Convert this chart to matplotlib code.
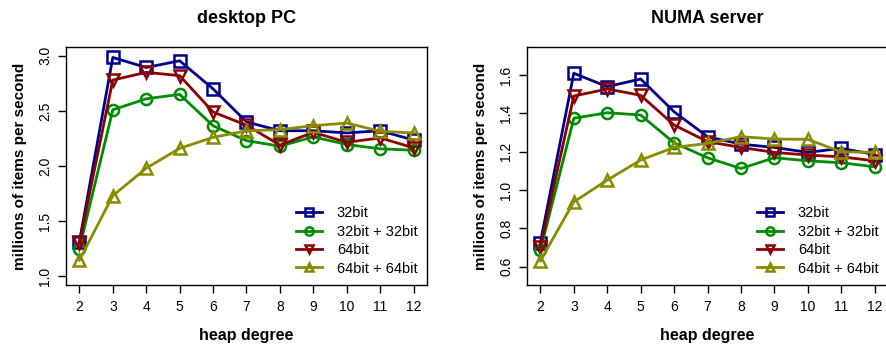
import matplotlib
matplotlib.use("Agg")
import matplotlib.pyplot as plt

plt.rcParams['font.family'] = ['Liberation Sans', 'DejaVu Sans']

degree = [2, 3, 4, 5, 6, 7, 8, 9, 10, 11, 12]
series_names = ["32bit", "32bit + 32bit", "64bit", "64bit + 64bit"]

# desktop PC
pc_32 = [1.31, 2.985, 2.894, 2.955, 2.70, 2.40, 2.32, 2.32, 2.30, 2.32, 2.235]
pc_32_32 = [1.25, 2.51, 2.61, 2.65, 2.365, 2.23, 2.18, 2.264, 2.195, 2.156, 2.143]
pc_64 = [1.30, 2.78, 2.85, 2.82, 2.49, 2.37, 2.19, 2.306, 2.215, 2.255, 2.165]
pc_64_64 = [1.145, 1.73, 1.98, 2.16, 2.26, 2.32, 2.33, 2.366, 2.39, 2.315, 2.30]

# NUMA server
numa_32 = [0.725, 1.609, 1.539, 1.579, 1.408, 1.278, 1.239, 1.222, 1.196, 1.217, 1.185]
numa_32_32 = [0.685, 1.374, 1.403, 1.391, 1.246, 1.168, 1.112, 1.168, 1.152, 1.142, 1.121]
numa_64 = [0.703, 1.49, 1.527, 1.494, 1.339, 1.252, 1.222, 1.196, 1.182, 1.173, 1.152]
numa_64_64 = [0.63, 0.938, 1.051, 1.156, 1.222, 1.243, 1.278, 1.266, 1.264, 1.199, 1.196]

colors = ["#00008B", "#008B00", "#8B0000", "#8B8B00"]
markers = ["s", "o", "v", "^"]

panels = [
    ("desktop PC", [pc_32, pc_32_32, pc_64, pc_64_64], (0.92, 3.08),
     [1.0, 1.5, 2.0, 2.5, 3.0], 66),
    ("NUMA server", [numa_32, numa_32_32, numa_64, numa_64_64], (0.504, 1.746),
     [0.6, 0.8, 1.0, 1.2, 1.4, 1.6], 527),
]

W, H = 887, 348
fig = plt.figure(figsize=(W / 100, H / 100), dpi=100)

for title, data, ylim, yticks, left_px in panels:
    ax = fig.add_axes([left_px / W, (H - 285) / H, 361 / W, 238 / H])
    for vals, name, c, m in zip(data, series_names, colors, markers):
        ax.plot(degree, vals, color=c, marker=m, markersize=8, markerfacecolor='none',
                markeredgewidth=1.8, linewidth=2, label=name)
    ax.set_xlim(1.6, 12.4)
    ax.set_ylim(*ylim)
    ax.set_xticks(degree)
    ax.set_yticks(yticks)
    ax.set_yticklabels([f"{t:.1f}" for t in yticks], rotation=90, va='center')
    ax.tick_params(direction='out', length=6, width=1, labelsize=10, pad=4)
    ax.tick_params(axis='x', pad=5)
    for s in ax.spines.values():
        s.set_linewidth(1)
    ax.set_title(title, fontsize=13, fontweight='bold', pad=17)
    ax.set_xlabel("heap degree", fontsize=11.5, fontweight='bold', labelpad=10)
    ax.set_ylabel("millions of items per second", fontsize=11, fontweight='bold', labelpad=8)
    ax.legend(loc='lower right', bbox_to_anchor=(1.0, 0.0), frameon=False, fontsize=10.5,
              handlelength=1.8, handletextpad=1.0, labelspacing=0.3, markerscale=0.75,
              borderaxespad=0.25)

fig.savefig("out.png", dpi=100)
